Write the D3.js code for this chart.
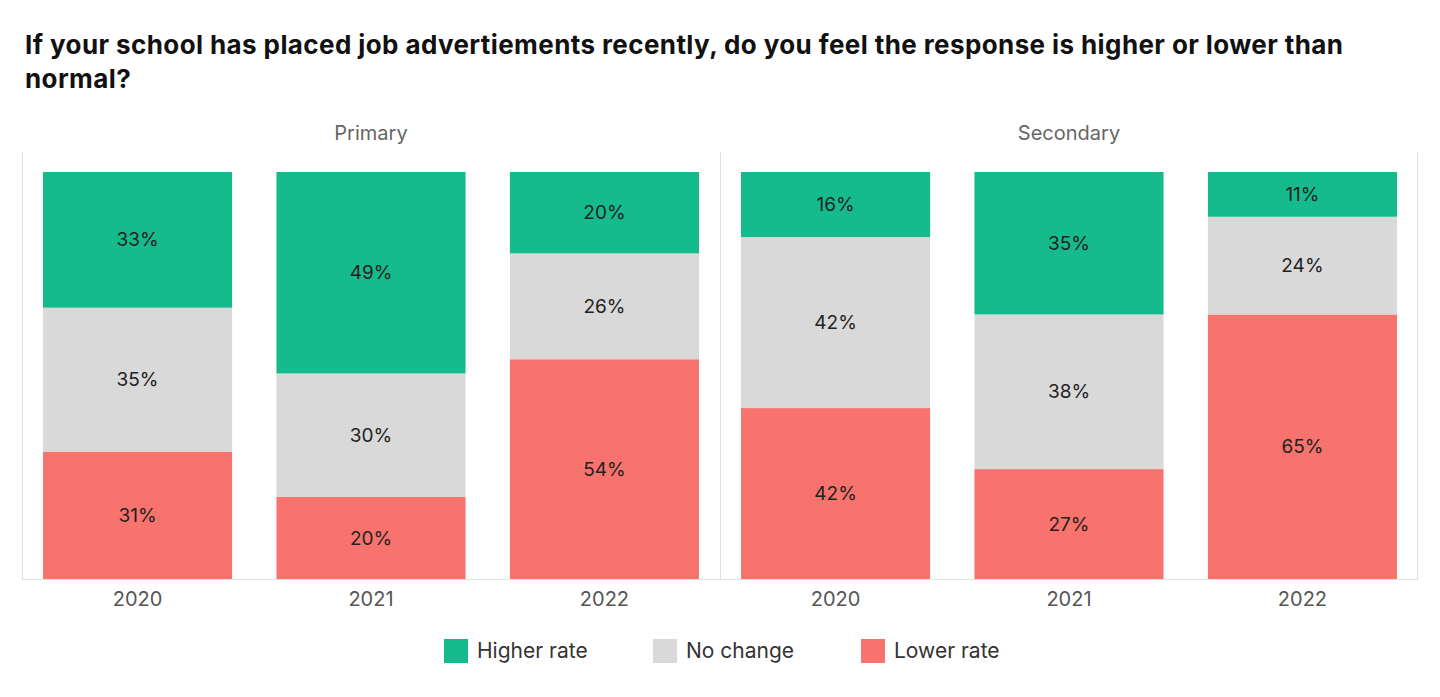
<!DOCTYPE html>
<html><head><meta charset="utf-8">
<script src="https://cdn.jsdelivr.net/npm/d3@7"></script>
<style>body{margin:0;background:#fff;} svg{display:block;}</style>
</head><body>
<svg id="c" width="1440" height="697"></svg>
<script>
const panels = ["Primary", "Secondary"];
const years = ["2020", "2021", "2022"];
const seriesNames = ["Higher rate", "No change", "Lower rate"];
const colors = ["#15BB8C", "#D9D9D9", "#F8736D"];
// values per panel, per year: [Higher, No change, Lower]
const primaryValues = [[33, 35, 31], [49, 30, 20], [20, 26, 54]];
const secondaryValues = [[16, 42, 42], [35, 38, 27], [11, 24, 65]];
const panelValues = [primaryValues, secondaryValues];

const svg = d3.select("#c");
const font = "Inter, 'Open Sans', sans-serif";

// title
const title = svg.append("text").attr("x", 25).attr("font-family", font)
  .attr("font-weight", 700).attr("font-size", 26).attr("letter-spacing", 0.4).attr("fill", "#111");
title.append("tspan").attr("x", 25).attr("y", 54).text("If your school has placed job advertiements recently, do you feel the response is higher or lower than");
title.append("tspan").attr("x", 25).attr("y", 88).text("normal?");

const panelX = d3.scaleBand().domain(panels).range([22, 1418]).paddingInner(0).paddingOuter(0);
const plotTop = 172, plotBottom = 579;
const y = d3.scaleLinear().domain([0, 1]).range([plotBottom, plotTop]);

panels.forEach((p, pi) => {
  const x0 = panelX(p);
  const w = panelX.bandwidth();
  const g = svg.append("g");
  const x = d3.scaleBand().domain(years).range([x0, x0 + w]).paddingInner(0.19).paddingOuter(0.09);
  // frame
  g.append("line").attr("x1", x0 + 0.5).attr("x2", x0 + 0.5).attr("y1", 152).attr("y2", plotBottom)
    .attr("stroke", "#e0e0e0");
  if (pi === panels.length - 1) {
    g.append("line").attr("x1", x0 + w - 0.5).attr("x2", x0 + w - 0.5).attr("y1", 152).attr("y2", plotBottom)
      .attr("stroke", "#e0e0e0");
  }
  g.append("text").attr("x", x0 + w / 2).attr("y", 140).attr("text-anchor", "middle")
    .attr("font-family", font).attr("font-size", 20).attr("fill", "#666").text(p);

  const rows = years.map((yr, i) => {
    const o = { year: yr };
    seriesNames.forEach((s, j) => o[s] = panelValues[pi][i][j]);
    return o;
  });
  // stack bottom-up: Lower, No change, Higher
  const stack = d3.stack().keys(seriesNames.slice().reverse()).offset(d3.stackOffsetExpand);
  const layers = stack(rows);
  layers.forEach(layer => {
    const si = seriesNames.indexOf(layer.key);
    layer.forEach((d, i) => {
      g.append("rect").attr("x", x(d.data.year)).attr("width", x.bandwidth())
        .attr("y", y(d[1])).attr("height", y(d[0]) - y(d[1])).attr("fill", colors[si]);
      g.append("text").attr("x", x(d.data.year) + x.bandwidth() / 2)
        .attr("y", (y(d[0]) + y(d[1])) / 2).attr("dy", "0.35em").attr("text-anchor", "middle")
        .attr("font-family", font).attr("font-size", 19).attr("fill", "#222")
        .text(d.data[layer.key] + "%");
    });
  });
  const ax = g.append("g").attr("transform", `translate(0,${plotBottom})`)
    .call(d3.axisBottom(x).tickSize(0).tickPadding(13));
  ax.select(".domain").attr("stroke", "#e0e0e0").attr("d", `M${x0},0.5H${x0 + w}`);
  ax.selectAll("text").attr("font-family", font).attr("font-size", 20).attr("fill", "#555");
});

// legend
const legendX = [444, 653, 861];
const lg = svg.append("g");
seriesNames.forEach((s, i) => {
  lg.append("rect").attr("x", legendX[i]).attr("y", 639).attr("width", 24).attr("height", 24).attr("fill", colors[i]);
  lg.append("text").attr("x", legendX[i] + 33).attr("y", 651).attr("dy", "0.35em")
    .attr("font-family", font).attr("font-size", 21).attr("fill", "#333").text(s);
});
</script>
</body></html>
